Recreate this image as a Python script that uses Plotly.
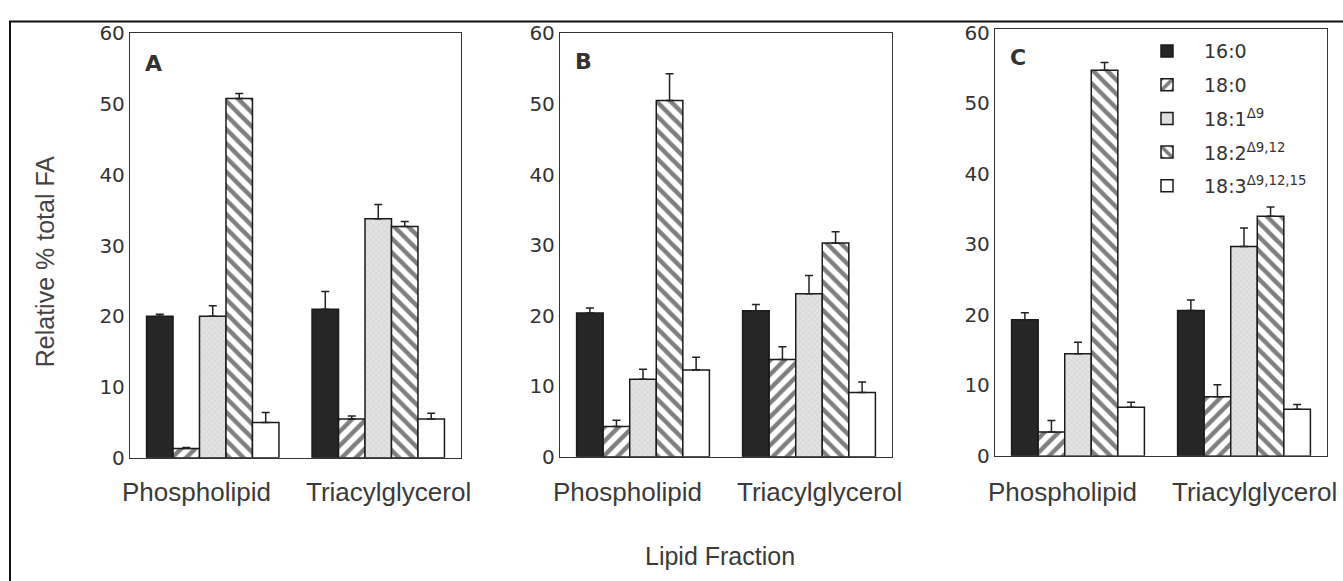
import plotly.graph_objects as go

W, H = 1343, 581

categories = ["Phospholipid", "Triacylglycerol"]
series_names = ["16:0", "18:0", "18:1<sup>Δ9</sup>", "18:2<sup>Δ9,12</sup>", "18:3<sup>Δ9,12,15</sup>"]
panel_letters = ["A", "B", "C"]
y_ticks = [0, 10, 20, 30, 40, 50, 60]

# values per series: [Phospholipid, Triacylglycerol]
a_values = [[20.0, 21.0], [1.3, 5.5], [20.0, 33.8], [50.8, 32.7], [5.0, 5.5]]
a_errors = [[0.3, 2.5], [0.15, 0.4], [1.5, 2.0], [0.7, 0.7], [1.4, 0.8]]

b_values = [[20.4, 20.7], [4.3, 13.8], [11.0, 23.1], [50.5, 30.3], [12.3, 9.1]]
b_errors = [[0.7, 0.9], [0.9, 1.8], [1.4, 2.6], [3.8, 1.6], [1.8, 1.5]]

c_values = [[19.3, 20.6], [3.4, 8.4], [14.5, 29.7], [54.7, 34.0], [6.9, 6.6]]
c_errors = [[1.0, 1.5], [1.6, 1.7], [1.6, 2.6], [1.1, 1.3], [0.7, 0.7]]


def px_x(p):
    return p / W


def px_y(p):
    return 1 - p / H


# styles
fills = ["#262626", "white", "#e0e0e0", "white", "white"]
patterns = [
    dict(shape=""),
    dict(shape="/", fgcolor="#000000", bgcolor="white", size=10, solidity=0.45),
    dict(shape="x", fgcolor="#a0a0a0", bgcolor="#e2e2e2", size=4, solidity=0.15),
    dict(shape="\\", fgcolor="#000000", bgcolor="white", size=10, solidity=0.45),
    dict(shape=""),
]

panels = [
    (a_values, a_errors, (130, 461), (22, 465), 60.05, (143, 54)),
    (b_values, b_errors, (560, 892), (22, 464), 60.05, (573, 52)),
    (c_values, c_errors, (995, 1327), (18, 463), 60.5, (1008, 47)),
]

fig = go.Figure()
annotations = []
layout_axes = {}
for i, (vals, errs, (xl, xr), (yt, yb), ytop, (lx, ly)) in enumerate(panels):
    k = "" if i == 0 else str(i + 1)
    for j in range(5):
        fig.add_trace(go.Bar(
            x=categories, y=vals[j], name=series_names[j],
            legendgroup=str(j), showlegend=(i == 2),
            xaxis="x" + k, yaxis="y" + k,
            marker=dict(color=fills[j], line=dict(color="#1a1a1a", width=1.5),
                        pattern=patterns[j]),
            error_y=dict(type="data", symmetric=False, array=errs[j], arrayminus=[0, 0],
                         color="#222222", thickness=1.5, width=4),
        ))
    layout_axes["xaxis" + k] = dict(
        domain=[px_x(xl), px_x(xr)], anchor="y" + k, type="category",
        range=[-0.5, 1.5], showticklabels=False, ticks="",
        showline=True, mirror=True, linecolor="#333333", linewidth=1.3,
        showgrid=False, zeroline=False, fixedrange=True,
    )
    layout_axes["yaxis" + k] = dict(
        domain=[px_y(yb), px_y(yt)], anchor="x" + k, range=[0, ytop],
        tickvals=y_ticks, ticks="", showline=True, mirror=True,
        linecolor="#333333", linewidth=1.3, showgrid=False, zeroline=False,
        tickfont=dict(family="DejaVu Sans", size=20, color="#333333"),
        fixedrange=True,
    )
    annotations.append(dict(
        text="<b>%s</b>" % panel_letters[i], xref="paper", yref="paper",
        x=px_x(lx), y=px_y(ly), xanchor="left", yanchor="middle", showarrow=False,
        font=dict(family="DejaVu Sans", size=22, color="#333333"),
    ))
    for c, shift in zip(categories, [-16, 10]):
        annotations.append(dict(
            text=c, xref="x" + k, yref="paper", x=c, y=px_y(501), xshift=shift,
            xanchor="center", yanchor="middle", showarrow=False,
            font=dict(family="Liberation Sans", size=26, color="#3a3a3a"),
        ))

annotations.append(dict(
    text="Relative % total FA", xref="paper", yref="paper", x=px_x(45), y=px_y(260),
    textangle=-90, xanchor="center", yanchor="middle", showarrow=False,
    font=dict(family="Liberation Sans", size=25, color="#444444"),
))
annotations.append(dict(
    text="Lipid Fraction", xref="paper", yref="paper", x=px_x(720), y=px_y(567),
    xanchor="center", yanchor="middle", showarrow=False,
    font=dict(family="Liberation Sans", size=25, color="#3a3a3a"),
))

fig.update_layout(
    width=W, height=H,
    margin=dict(l=0, r=0, t=0, b=0),
    paper_bgcolor="white", plot_bgcolor="white",
    barmode="group", bargap=0.2, bargroupgap=0,
    annotations=annotations,
    legend=dict(
        x=px_x(1130), y=px_y(21), xanchor="left", yanchor="top",
        bgcolor="rgba(0,0,0,0)", itemwidth=64, tracegroupgap=6,
        font=dict(family="DejaVu Sans", size=19, color="#333333"),
    ),
    shapes=[dict(type="rect", xref="paper", yref="paper",
                 x0=px_x(10), x1=1.1, y0=-0.1, y1=px_y(10),
                 line=dict(color="#111111", width=2))],
    **layout_axes,
)

fig.write_html("out.html")
